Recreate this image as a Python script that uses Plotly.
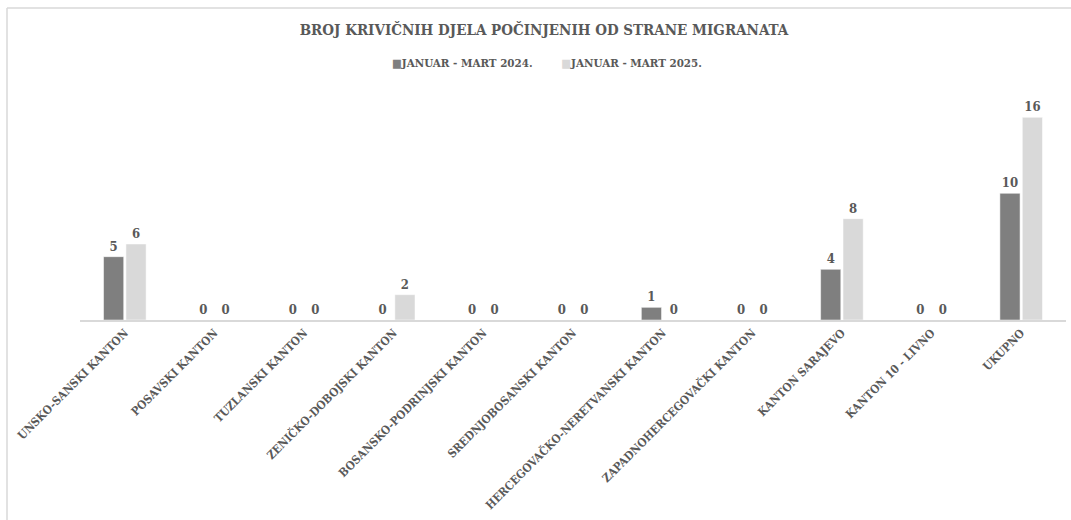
import plotly.graph_objects as go

categories = [
    "UNSKO-SANSKI KANTON", "POSAVSKI KANTON", "TUZLANSKI KANTON",
    "ZENIČKO-DOBOJSKI KANTON", "BOSANSKO-PODRINJSKI KANTON",
    "SREDNJOBOSANSKI KANTON", "HERCEGOVAČKO-NERETVANSKI KANTON",
    "ZAPADNOHERCEGOVAČKI KANTON", "KANTON SARAJEVO", "KANTON 10 - LIVNO",
    "UKUPNO",
]
values_2024 = [5, 0, 0, 0, 0, 0, 1, 0, 4, 0, 10]
values_2025 = [6, 0, 0, 2, 0, 0, 0, 0, 8, 0, 16]
series_names = ["JANUAR - MART 2024.", "JANUAR - MART 2025."]
series_colors = ["#7f7f7f", "#d9d9d9"]

FONT = "DejaVu Serif Condensed, Liberation Serif, serif"
TEXT = "#595959"

W, H = 1071, 520
L, R, T, B = 80, 5, 92, 200
pw, ph = W - L - R, H - T - B


def px_to_paper(px, py):
    return (px - L) / pw, (H - B - py) / ph


fig = go.Figure()
for name, vals, color in zip(series_names, [values_2024, values_2025], series_colors):
    fig.add_trace(go.Bar(
        x=categories, y=vals, name=name,
        marker=dict(color=color, line=dict(color="#ffffff", width=0.5)),
        text=[str(v) for v in vals], textposition="outside",
        textfont=dict(family=FONT, size=13, color=TEXT, weight="bold"),
        cliponaxis=False, showlegend=False,
    ))

# chart frame (top and left edges)
x0, y0 = px_to_paper(7, 8)
x1, _ = px_to_paper(1075, 8)
_, yb = px_to_paper(7, 525)
fig.add_shape(type="line", xref="paper", yref="paper", x0=x0, y0=y0, x1=x1, y1=y0,
              line=dict(color="#d9d9d9", width=1.5))
fig.add_shape(type="line", xref="paper", yref="paper", x0=x0, y0=y0, x1=x0, y1=yb,
              line=dict(color="#d9d9d9", width=1.5))

# legend row: colour square + series name
legend_text = "        ".join(
    f"<span style='color:{c}'>■</span>{n}" for n, c in zip(series_names, series_colors)
)
fig.add_annotation(
    text=legend_text, xref="paper", yref="paper",
    x=px_to_paper(547, 0)[0], y=px_to_paper(0, 63)[1],
    xanchor="center", yanchor="middle", showarrow=False,
    font=dict(family=FONT, size=11.5, color=TEXT, weight="bold"),
)

fig.update_layout(
    width=W, height=H,
    margin=dict(l=L, r=R, t=T, b=B),
    paper_bgcolor="white", plot_bgcolor="white",
    barmode="group", bargap=0.5, bargroupgap=0.1,
    title=dict(text="<b>BROJ KRIVIČNIH DJELA POČINJENIH OD STRANE MIGRANATA</b>",
               x=544 / W, xref="container", xanchor="center", y=1 - 30 / H, yanchor="middle",
               font=dict(family=FONT, size=15, color=TEXT)),
    xaxis=dict(tickangle=-45, showline=True, linecolor="#d9d9d9", linewidth=1.5,
               ticks="", showgrid=False,
               tickfont=dict(family=FONT, size=11.5, color=TEXT, weight="bold")),
    yaxis=dict(range=[0, 18], visible=False, showgrid=False, zeroline=False),
    showlegend=False,
)

fig.write_html("out.html")
